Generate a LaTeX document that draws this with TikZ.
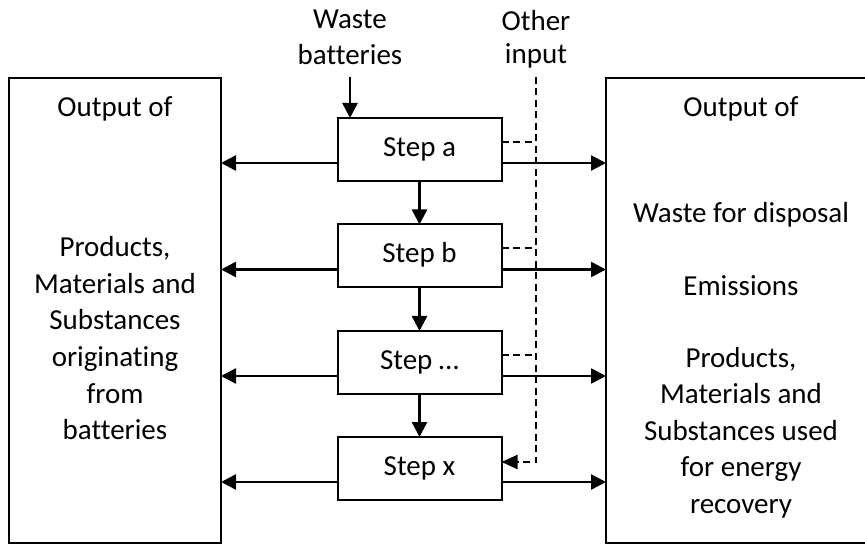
\documentclass[tikz,border=0pt]{standalone}
\usepackage{fontspec}
\setmainfont{Carlito}[Ligatures=NoCommon]
\usetikzlibrary{arrows.meta,calc}
\begin{document}
\begin{tikzpicture}[x=1pt,y=-1pt,
  every node/.style={font=\fontsize{29}{36.5}\selectfont},
  bigbox/.style={draw,line width=2pt,minimum width=#1,minimum height=465pt,
    anchor=north west,inner sep=0pt,outer sep=0pt},
  stepbox/.style={draw,line width=2pt,minimum width=164pt,minimum height=63pt,
    inner sep=0pt,outer sep=0pt,text height=20pt,text depth=6pt},
  flow/.style={line width=2.5pt,-{Triangle[length=15pt,width=15pt]}},
  dashflow/.style={line width=2pt,dash pattern=on 7pt off 4.5pt},
  lbl/.style={anchor=base,inner sep=0pt}]
\useasboundingbox (0,0) rectangle (865,545);
\clip (0,0) rectangle (865,545);

% output boxes on both sides
\node[bigbox=212pt] (L) at (9,78) {};
\node[bigbox=270pt] (R) at (606,78) {};

% process steps
\node[stepbox] (a) at (419.5,149.5) {Step a};
\node[stepbox] (b) at (419.5,256) {Step b};
\node[stepbox] (c) at (419.5,362.5) {Step …};
\node[stepbox] (x) at (419.5,468.5) {Step x};

% inputs at the top
\node[lbl] (wb1) at (350,29) {Waste};
\node[lbl] (wb2) at (350,65) {batteries};
\node[lbl] (oi1) at (536,31) {Other};
\node[lbl] (oi2) at (536,64) {input};
\coordinate (wtop) at (350,77);
\coordinate (otop) at (536,77);

% left box text
\node[lbl] (lh) at (115,117) {Output of};
\foreach \t [count=\i from 0] in {{Products,},Materials and,Substances,originating,from,batteries}{
  \node[lbl] (lt\i) at (115,257+36.5*\i) {\t};
}
% right box text
\node[lbl] (rh) at (741,117) {Output of};
\node[lbl] (rw) at (741,223) {Waste for disposal};
\node[lbl] (re) at (741,296) {Emissions};
\foreach \t [count=\i from 0] in {{Products,},Materials and,Substances used,for energy,recovery}{
  \node[lbl] (rp\i) at (741,367+36.5*\i) {\t};
}

% main flow
\draw[flow] (wtop) -- (wtop |- a.north);
\draw[flow] (a) -- (b);
\draw[flow] (b) -- (c);
\draw[flow] (c) -- (x);

% outputs of each step
\foreach \s in {a,b,c,x}{
  \draw[flow] ($(\s.west)+(0,13.5)$) coordinate (\s-lo) -- (\s-lo -| L.east);
  \draw[flow] ($(\s.east)+(0,13.5)$) coordinate (\s-ro) -- (\s-ro -| R.west);
}

% other input, dashed
\draw[dashflow,-{Triangle[length=16pt,width=14pt]}] (otop) |- ($(x.east)+(0,-6.5)$);
\foreach \s in {a,b,c}{
  \draw[dashflow] ($(\s.east)+(0,-7.5)$) coordinate (\s-in) -- (\s-in -| otop);
}
\end{tikzpicture}
\end{document}
